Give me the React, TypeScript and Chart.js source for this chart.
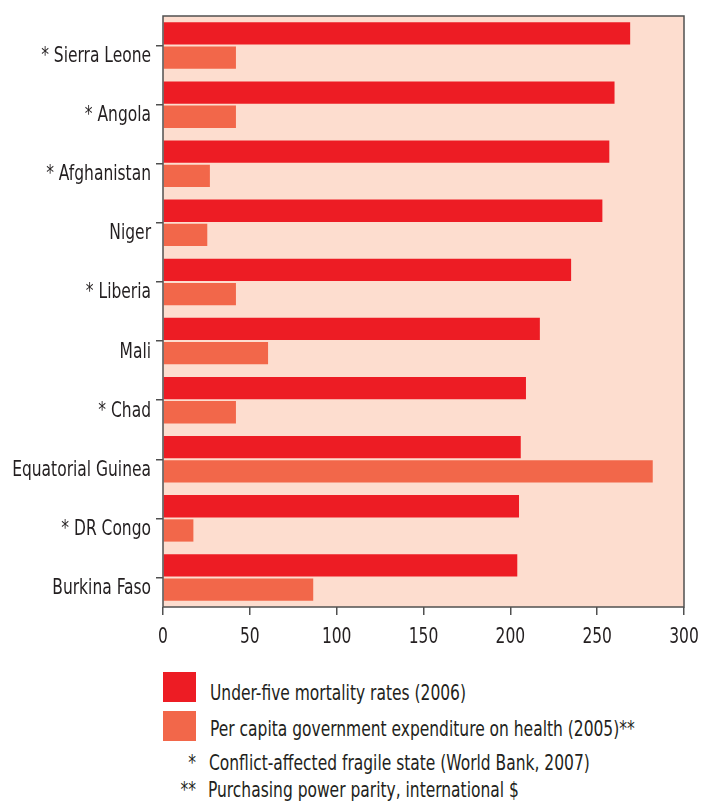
import React, { useEffect, useRef } from "react";
import { Chart, registerables } from "chart.js";

Chart.register(...registerables);

const countries = [
  "* Sierra Leone",
  "* Angola",
  "* Afghanistan",
  "Niger",
  "* Liberia",
  "Mali",
  "* Chad",
  "Equatorial Guinea",
  "* DR Congo",
  "Burkina Faso",
];
const mortality = [269, 260, 257, 253, 235, 217, 209, 206, 205, 204];
const expenditure = [42, 42, 27, 25.5, 42, 60.5, 42, 282, 17.5, 86.5];
const seriesLabels = [
  "Under-five mortality rates (2006)",
  "Per capita government expenditure on health (2005)**",
];
const seriesColors = ["#ED1C24", "#F2674A"];
const footnoteMarks = ["*", "**"];
const footnotes = [
  "Conflict-affected fragile state (World Bank, 2007)",
  "Purchasing power parity, international $",
];
const xMin = 0;
const xMax = 300;
const xStep = 50;

const FONT = "'DejaVu Sans Condensed', 'Liberation Sans', sans-serif";
const FONT_SIZE = 21;
const SQUEEZE = 0.82;
const TEXT = "#231F20";
const LINE = "#505050";
const BG = "#FDDDCF";

const plotFrame = {
  id: "plotFrame",
  beforeDatasetsDraw(chart: any) {
    const { ctx, chartArea } = chart;
    ctx.save();
    ctx.fillStyle = BG;
    ctx.fillRect(chartArea.left, chartArea.top, chartArea.right - chartArea.left, chartArea.bottom - chartArea.top);
    ctx.restore();
  },
  afterDatasetsDraw(chart: any) {
    const { ctx, chartArea } = chart;
    ctx.save();
    ctx.strokeStyle = LINE;
    ctx.lineWidth = 1.5;
    ctx.strokeRect(chartArea.left, chartArea.top, chartArea.right - chartArea.left, chartArea.bottom - chartArea.top);
    ctx.restore();
  },
  // condensed tick labels, placed from the library's own scales
  afterDraw(chart: any) {
    const { ctx } = chart;
    const xs = chart.scales.x;
    const ys = chart.scales.y;
    ctx.save();
    ctx.fillStyle = TEXT;
    ctx.font = `${FONT_SIZE}px ${FONT}`;
    ctx.textBaseline = "middle";
    ys.ticks.forEach((_t: any, i: number) => {
      const label = ys.getLabelForValue(ys.ticks[i].value);
      const y = ys.getPixelForTick(i) + 11;
      const x = ys.right - 12;
      ctx.save();
      ctx.translate(x, y);
      ctx.scale(SQUEEZE, 1);
      ctx.textAlign = "right";
      ctx.fillText(label, 0, 0);
      ctx.restore();
    });
    xs.ticks.forEach((t: any, i: number) => {
      const x = xs.getPixelForTick(i);
      const y = xs.top + 31;
      ctx.save();
      ctx.translate(x, y);
      ctx.scale(SQUEEZE, 1);
      ctx.textAlign = "center";
      ctx.fillText(String(t.value), 0, 0);
      ctx.restore();
    });
    ctx.restore();
  },
};

export default function App() {
  const ref = useRef<HTMLCanvasElement | null>(null);

  useEffect(() => {
    if (!ref.current) return;
    const chart = new Chart(ref.current, {
      type: "bar",
      data: {
        labels: countries,
        datasets: [
          {
            label: seriesLabels[0],
            data: mortality,
            backgroundColor: seriesColors[0],
            categoryPercentage: 0.82,
            barPercentage: 0.92,
          },
          {
            label: seriesLabels[1],
            data: expenditure,
            backgroundColor: seriesColors[1],
            categoryPercentage: 0.82,
            barPercentage: 0.92,
          },
        ],
      },
      options: {
        indexAxis: "y",
        animation: false,
        responsive: true,
        maintainAspectRatio: false,
        layout: { padding: { top: 16, right: 23, left: 0, bottom: 0 } },
        plugins: {
          legend: { display: false },
          tooltip: { enabled: false },
        },
        scales: {
          x: {
            min: xMin,
            max: xMax,
            border: { display: false },
            grid: {
              drawOnChartArea: false,
              drawTicks: true,
              tickLength: 8,
              color: LINE,
              lineWidth: 1.5,
            },
            ticks: {
              stepSize: xStep,
              display: false,
            },
            afterFit(scale: any) {
              scale.height = 50;
            },
          },
          y: {
            border: { display: false },
            grid: {
              offset: false,
              drawOnChartArea: false,
              drawTicks: true,
              tickLength: 7,
              color: LINE,
              lineWidth: 1.5,
            },
            ticks: {
              display: false,
            },
            afterFit(scale: any) {
              scale.width = 163;
            },
          },
        },
      },
      plugins: [plotFrame],
    });
    return () => chart.destroy();
  }, []);

  const textStyle: React.CSSProperties = {
    position: "absolute",
    fontFamily: FONT,
    fontSize: FONT_SIZE,
    color: TEXT,
    lineHeight: "24px",
    whiteSpace: "nowrap",
    transform: `scaleX(${SQUEEZE})`,
    transformOrigin: "left center",
  };

  return (
    <div style={{ position: "absolute", left: 0, top: 0, width: 707, height: 801, background: "#fff" }}>
      <div style={{ position: "absolute", left: 0, top: 0, width: 707, height: 657 }}>
        <canvas ref={ref} />
      </div>
      {seriesLabels.map((label, i) => (
        <React.Fragment key={label}>
          <div
            style={{
              position: "absolute",
              left: 163,
              top: 672 + i * 39,
              width: 33,
              height: 30,
              background: seriesColors[i],
            }}
          />
          <div style={{ ...textStyle, left: 210, top: 681 + i * 36 }}>{label}</div>
        </React.Fragment>
      ))}
      {footnotes.map((note, i) => (
        <React.Fragment key={note}>
          <div
            style={{
              ...textStyle,
              left: 150,
              width: 46,
              textAlign: "right",
              transformOrigin: "right center",
              top: 751 + i * 27,
            }}
          >
            {footnoteMarks[i]}
          </div>
          <div style={{ ...textStyle, left: 209 - i, top: 751 + i * 27 }}>{note}</div>
        </React.Fragment>
      ))}
    </div>
  );
}
